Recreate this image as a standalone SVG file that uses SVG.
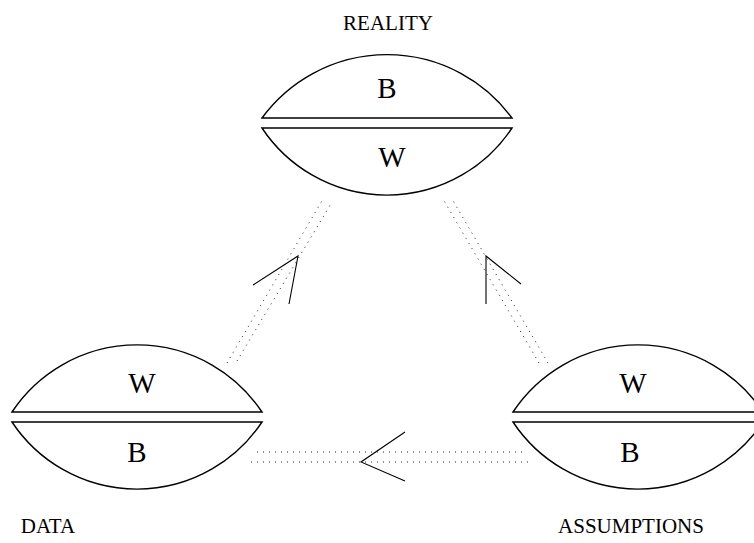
<svg xmlns="http://www.w3.org/2000/svg" width="754" height="543" viewBox="0 0 754 543">
  <style>
    .half { fill: none; stroke: #000; stroke-width: 1.4; }
    .dot { fill: none; stroke: #222; stroke-width: 1; stroke-dasharray: 1 5; }
    .head { fill: none; stroke: #000; stroke-width: 1.1; }
    .big { font-family: "Liberation Serif", "Times New Roman", serif; font-size: 29px; text-anchor: middle; fill: #000; }
    .lbl { font-family: "Liberation Serif", "Times New Roman", serif; font-size: 21px; text-anchor: middle; fill: #000; }
  </style>
  <rect width="754" height="543" fill="#fff"/>

  <!-- connectors: paired dotted tracks with open arrowheads -->
  <g id="connectors">
    <!-- DATA -> REALITY -->
    <line class="dot" x1="227" y1="363" x2="323" y2="199"/>
    <line class="dot" x1="237" y1="361" x2="332" y2="202"/>
    <polyline class="head" points="253,285 298,256 289,304"/>
    <!-- ASSUMPTIONS -> REALITY -->
    <line class="dot" x1="539" y1="363" x2="443" y2="199"/>
    <line class="dot" x1="548" y1="363" x2="452" y2="199"/>
    <polyline class="head" points="521,284 486,256 486,304"/>
    <!-- ASSUMPTIONS -> DATA -->
    <line class="dot" x1="522" y1="452" x2="255" y2="452"/>
    <line class="dot" x1="528" y1="462" x2="246" y2="462"/>
    <polyline class="head" points="405,432 361,462 405,481"/>
  </g>

  <!-- REALITY -->
  <g id="reality">
    <path class="half" d="M262,118 A155,155 0 0 1 512,118 Z"/>
    <path class="half" d="M262,128 A150,150 0 0 0 512,128 Z"/>
    <text class="big" x="387" y="98">B</text>
    <text class="big" x="392" y="167">W</text>
    <text class="lbl" x="388" y="30">REALITY</text>
  </g>

  <!-- DATA -->
  <g id="data">
    <path class="half" d="M12,412 A150,150 0 0 1 262,412 Z"/>
    <path class="half" d="M12,422 A150,150 0 0 0 262,422 Z"/>
    <text class="big" x="142" y="393">W</text>
    <text class="big" x="137" y="462">B</text>
    <text class="lbl" x="48" y="533">DATA</text>
  </g>

  <!-- ASSUMPTIONS -->
  <g id="assumptions">
    <path class="half" d="M513,412 A150,150 0 0 1 763,412 Z"/>
    <path class="half" d="M513,422 A150,150 0 0 0 763,422 Z"/>
    <text class="big" x="633" y="393">W</text>
    <text class="big" x="630" y="462">B</text>
    <text class="lbl" x="631" y="533">ASSUMPTIONS</text>
  </g>
</svg>
